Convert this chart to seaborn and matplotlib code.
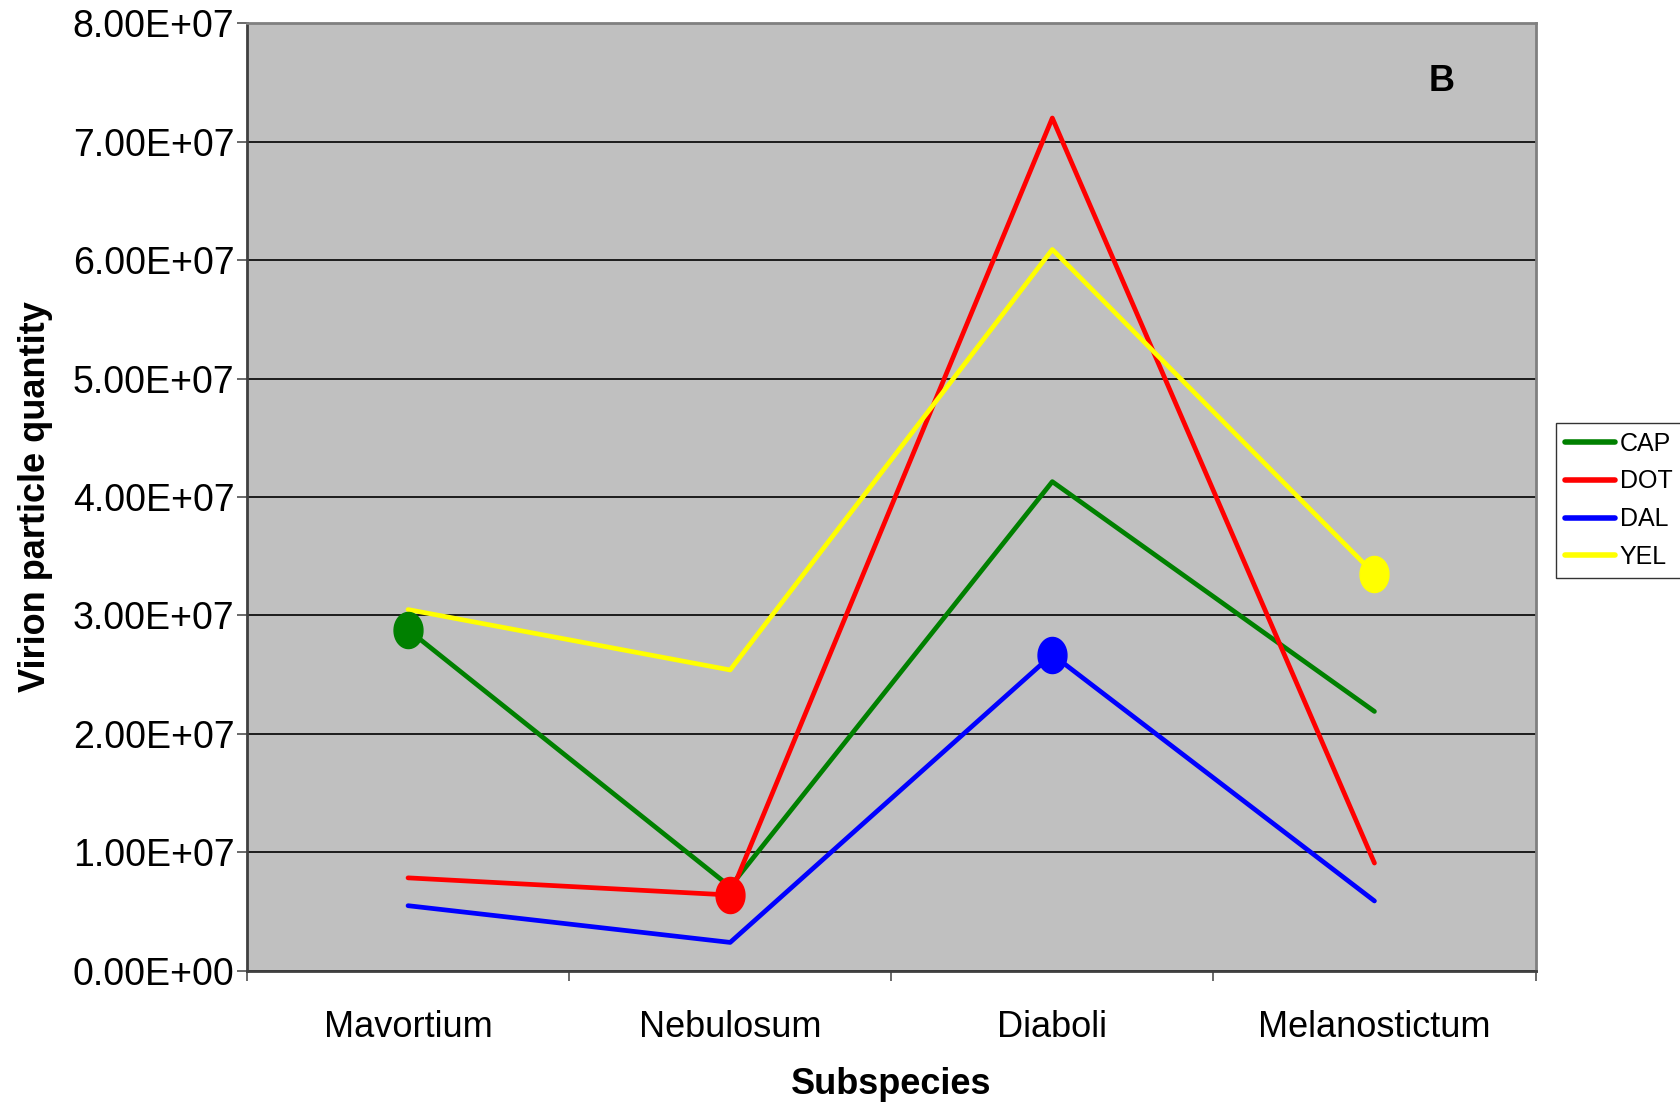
import numpy as np
import pandas as pd
import matplotlib
matplotlib.use('Agg')
import matplotlib.pyplot as plt
from matplotlib.path import Path
from matplotlib.ticker import FuncFormatter, FixedLocator
import seaborn as sns

# values
subspecies = ['Mavortium', 'Nebulosum', 'Diaboli', 'Melanostictum']
cap = [2.88e7, 0.71e7, 4.13e7, 2.19e7]
dot = [0.785e7, 0.64e7, 7.20e7, 0.91e7]
dal = [0.55e7, 0.24e7, 2.67e7, 0.59e7]
yel = [3.05e7, 2.54e7, 6.09e7, 3.35e7]
strains = ['CAP', 'DOT', 'DAL', 'YEL']
colors = ['#008000', '#FF0000', '#0000FF', '#FFFF00']
# which subspecies carries the dot for each strain
marker_at = [0, 1, 2, 3]

df = pd.DataFrame({
    'subspecies': subspecies * 4,
    'value': cap + dot + dal + yel,
    'strain': np.repeat(strains, 4),
})

sns.set_style('white')
plt.rcParams['font.family'] = ['Liberation Sans', 'DejaVu Sans']
plt.rcParams['text.color'] = 'black'
plt.rcParams['xtick.color'] = 'black'
plt.rcParams['ytick.color'] = 'black'
plt.rcParams['axes.labelcolor'] = 'black'

fig = plt.figure(figsize=(16.8, 11.07), dpi=100)
ax = fig.add_axes([0.147, 0.123, 0.767, 0.856])
ax.set_facecolor('#C0C0C0')

sns.lineplot(data=df, x='subspecies', y='value', hue='strain',
             palette=dict(zip(strains, colors)), linewidth=3.4,
             ax=ax, legend=False, zorder=3)

# ellipse marker (a bit taller than wide)
t = np.linspace(0, 2 * np.pi, 60)
ell = Path(np.column_stack([0.8 * np.cos(t), np.sin(t)]))
series = [cap, dot, dal, yel]
for vals, c, i in zip(series, colors, marker_at):
    ax.plot([i], [vals[i]], marker=ell, markersize=26, color=c,
            linestyle='none', zorder=4)

ax.set_xlim(-0.5, 3.5)
ax.set_ylim(0, 8e7)
ax.set_yticks(np.arange(0, 8.01e7, 1e7))
ax.yaxis.set_major_formatter(FuncFormatter(lambda v, p: f'{v:.2E}'))
ax.grid(axis='y', color='black', linewidth=1.2, zorder=1)
ax.set_axisbelow(True)

ax.xaxis.set_major_locator(FixedLocator([-0.5, 0.5, 1.5, 2.5, 3.5]))
ax.xaxis.set_minor_locator(FixedLocator([0, 1, 2, 3]))
ax.set_xticklabels([])
ax.set_xticklabels(subspecies, minor=True)
ax.tick_params(axis='x', which='major', length=7, width=1.2, color='#505050')
ax.tick_params(axis='x', which='minor', length=0, labelsize=26, pad=28)
ax.tick_params(axis='y', length=7, width=1.2, color='#505050', labelsize=27, pad=2)
ax.tick_params(bottom=True, left=True)

for s in ax.spines.values():
    s.set_color('#808080')
    s.set_linewidth(2)
ax.spines['bottom'].set_color('#404040')
ax.spines['left'].set_color('#404040')

ax.set_xlabel('Subspecies', fontsize=26, fontweight='bold', labelpad=16)
ax.set_ylabel('Virion particle quantity', fontsize=26, fontweight='bold', labelpad=14)

ax.text(0.927, 0.939, 'B', transform=ax.transAxes, fontsize=26,
        fontweight='bold', ha='center', va='center')

handles = [plt.Line2D([], [], color=c, linewidth=4) for c in colors]
leg = fig.legend(handles, strains, loc='upper left',
                 bbox_to_anchor=(1556 / 1680, 1 - 423 / 1107),
                 fontsize=18, frameon=True, fancybox=False,
                 handlelength=2.0, handletextpad=0.2, labelspacing=0.55,
                 borderpad=0.35, borderaxespad=0)
leg.get_frame().set_edgecolor('black')
leg.get_frame().set_linewidth(1)

fig.savefig('out.png', dpi=100)
